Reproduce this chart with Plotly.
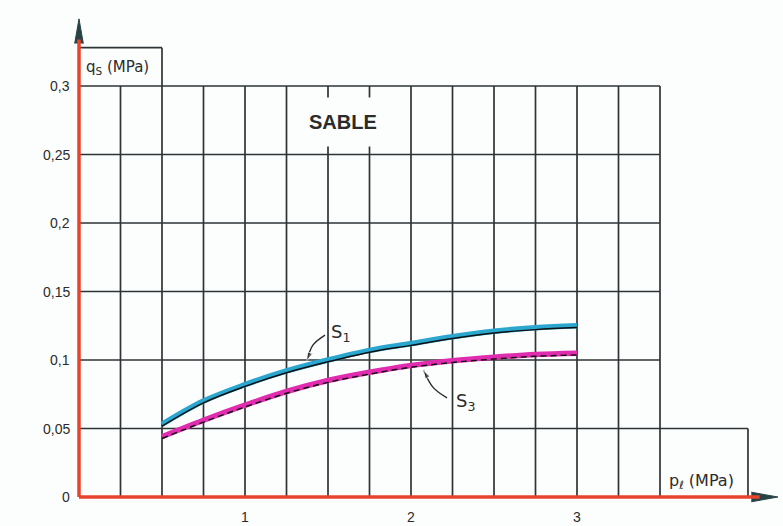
import plotly.graph_objects as go

# Pressiometric limit pressure p_l (MPa) and unit skin friction q_s (MPa) for sand
p_l = [0.5, 0.75, 1.0, 1.25, 1.5, 1.75, 2.0, 2.25, 2.5, 2.75, 3.0]
s1 = [0.053, 0.070, 0.082, 0.092, 0.100, 0.107, 0.112, 0.117, 0.121, 0.1235, 0.125]
s3 = [0.044, 0.056, 0.067, 0.077, 0.085, 0.091, 0.096, 0.0995, 0.102, 0.104, 0.105]

x_ticks = [1, 2, 3]
x_tick_labels = ["1", "2", "3"]
y_ticks = [0, 0.05, 0.1, 0.15, 0.2, 0.25, 0.3]
y_tick_labels = ["0", "0,05", "0,1", "0,15", "0,2", "0,25", "0,3"]

# Grid of the abacus
grid_x = [0.25, 0.5, 0.75, 1.0, 1.25, 1.5, 1.75, 2.0, 2.25, 2.5, 2.75, 3.0, 3.25, 3.5]
grid_y = [0.05, 0.1, 0.15, 0.2, 0.25, 0.3]
grid_right = 3.5
label_box_right = 4.03
top_box = (0.5, 0.328)

RED = "#e8432c"
GRID = "#2e3436"
CYAN = "#2aa6cf"
MAGENTA = "#e02cae"
INK = "#2b2b2b"
ARROW = "#284346"

fig = go.Figure()

shapes = []
for gx in grid_x:
    shapes.append(dict(type="line", xref="x", yref="y", x0=gx, x1=gx, y0=0, y1=0.3,
                       line=dict(color=GRID, width=1.7), layer="below"))
for gy in grid_y:
    x_end = label_box_right if gy == 0.05 else grid_right
    shapes.append(dict(type="line", xref="x", yref="y", x0=0, x1=x_end, y0=gy, y1=gy,
                       line=dict(color=GRID, width=1.7), layer="below"))
# box around the p_l label
shapes.append(dict(type="line", xref="x", yref="y", x0=label_box_right, x1=label_box_right,
                   y0=0, y1=0.05, line=dict(color=GRID, width=1.7), layer="below"))
# box around the q_s label
shapes.append(dict(type="line", xref="x", yref="y", x0=top_box[0], x1=top_box[0],
                   y0=0.3, y1=top_box[1], line=dict(color=GRID, width=1.7), layer="below"))
shapes.append(dict(type="line", xref="x", yref="y", x0=0, x1=top_box[0],
                   y0=top_box[1], y1=top_box[1], line=dict(color=GRID, width=1.7), layer="below"))
# red axes
shapes.append(dict(type="line", xref="x", yref="y", x0=0, x1=4.1, y0=0, y1=0,
                   line=dict(color=RED, width=3.5), layer="above"))
shapes.append(dict(type="line", xref="x", yref="y", x0=0, x1=0, y0=0, y1=0.334,
                   line=dict(color=RED, width=3.5), layer="above"))
# underline of the title
shapes.append(dict(type="line", xref="x", yref="y", x0=1.36, x1=1.83, y0=0.2655, y1=0.2655,
                   line=dict(color="#27456b", width=1.6), layer="above"))

# curves: coloured band with the black drawn line along its lower edge
fig.add_trace(go.Scatter(x=p_l, y=s1, mode="lines", line=dict(color=CYAN, width=5.5, shape="spline"),
                         hoverinfo="skip", showlegend=False))
fig.add_trace(go.Scatter(x=p_l, y=[v - 0.0013 for v in s1], mode="lines",
                         line=dict(color="#111111", width=1.4, shape="spline"),
                         hoverinfo="skip", showlegend=False))
fig.add_trace(go.Scatter(x=p_l, y=s3, mode="lines", line=dict(color=MAGENTA, width=5.5, shape="spline"),
                         hoverinfo="skip", showlegend=False))
fig.add_trace(go.Scatter(x=p_l, y=[v - 0.0013 for v in s3], mode="lines",
                         line=dict(color="#111111", width=1.4, dash="6px,4px", shape="spline"),
                         hoverinfo="skip", showlegend=False))

# curved pointers from the curve names
pointers = [
    ([1.482, 1.41, 1.373], [0.1182, 0.111, 0.0995]),
    ([2.217, 2.133, 2.075], [0.0723, 0.080, 0.0925]),
]
for px, py in pointers:
    fig.add_trace(go.Scatter(x=px, y=py, mode="lines+markers",
                             line=dict(color=INK, width=1.4, shape="spline"),
                             marker=dict(symbol="arrow", size=[0, 0, 9], angleref="previous", color=INK),
                             hoverinfo="skip", showlegend=False))

# axis arrowheads (narrow filled triangles)
arrowheads = [
    ([-0.026, 0.0, 0.026], [0.331, 0.349, 0.331]),
    ([4.05, 4.21, 4.05], [-0.0035, 0.0, 0.0035]),
]
for hx, hy in arrowheads:
    fig.add_trace(go.Scatter(x=hx, y=hy, mode="lines", fill="toself", fillcolor=ARROW,
                             line=dict(color=ARROW, width=1),
                             hoverinfo="skip", showlegend=False))

annotations = []
tick_font = dict(family="Liberation Sans, Arial, sans-serif", color=INK, size=14)
label_font = dict(family="DejaVu Sans, sans-serif", color=INK)
for v, t in zip(y_ticks, y_tick_labels):
    annotations.append(dict(x=-0.04, y=v, xref="x", yref="y", text=t, showarrow=False,
                            xanchor="right", yanchor="middle", font=tick_font))
for v, t in zip(x_ticks, x_tick_labels):
    annotations.append(dict(x=v, y=-0.0146, xref="x", yref="y", text=t, showarrow=False,
                            xanchor="center", yanchor="middle", font=tick_font))
annotations += [
    dict(x=1.59, y=0.2737, xref="x", yref="y", text="<b>SABLE</b>", showarrow=False,
         font=dict(family="Liberation Sans, Arial, sans-serif", color=INK, size=20),
         bgcolor="#fcfefe", borderpad=13),
    dict(x=0.03, y=0.3135, xref="x", yref="y", text="q<sub>S</sub> (MPa)", showarrow=False,
         xanchor="left", yanchor="middle", font=dict(**label_font, size=15)),
    dict(x=3.54, y=0.0115, xref="x", yref="y", text="p<sub>ℓ</sub> (MPa)", showarrow=False,
         xanchor="left", yanchor="middle", font=dict(**label_font, size=16)),
    dict(x=1.575, y=0.1195, xref="x", yref="y", text="S<sub>1</sub>", showarrow=False,
         font=dict(**label_font, size=18)),
    dict(x=2.33, y=0.069, xref="x", yref="y", text="S<sub>3</sub>", showarrow=False,
         font=dict(**label_font, size=18)),
]

fig.update_layout(
    width=783, height=526,
    margin=dict(l=0, r=0, t=0, b=0),
    paper_bgcolor="#fcfefe", plot_bgcolor="#fcfefe",
    shapes=shapes, annotations=annotations,
    xaxis=dict(range=[-79 / 166, (783 - 79) / 166], showgrid=False, zeroline=False,
               showticklabels=False, ticks=""),
    yaxis=dict(range=[(497 - 526) / 1370, 497 / 1370], showgrid=False, zeroline=False,
               showticklabels=False, ticks=""),
    showlegend=False,
)

fig.write_html("out.html")
